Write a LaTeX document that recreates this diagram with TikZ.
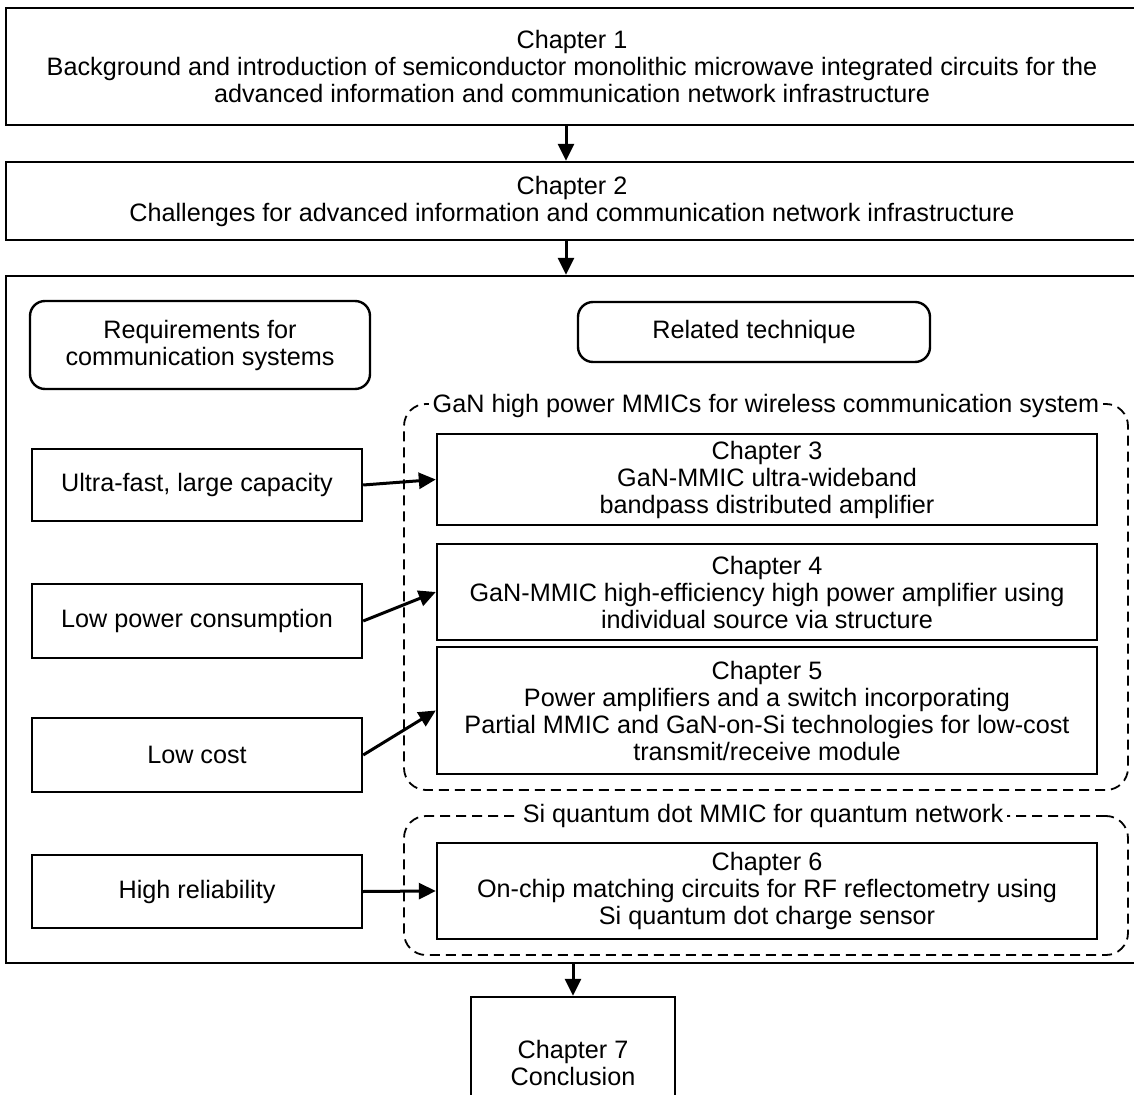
\documentclass[tikz,border=0pt]{standalone}
\usepackage{fontspec}
\setmainfont{Liberation Sans}
\usetikzlibrary{arrows.meta,positioning}
\begin{document}
\begin{tikzpicture}[x=0.5pt, y=-0.5pt,
    every node/.style={font=\fontsize{12.6}{13.5}\selectfont, align=center, inner sep=0pt},
    box/.style={draw, line width=1.2pt},
    rbox/.style={draw, line width=1.2pt, rounded corners=7.5pt},
    group/.style={draw, dash pattern=on 5pt off 3pt, line width=0.9pt, rounded corners=11pt},
    grouplabel/.style={fill=white, inner sep=2pt},
    arr/.style={-{Triangle[length=8.5pt,width=8pt]}, line width=1.5pt}]
    \clip (0,0) rectangle (1134,1095);
    \node (ch1) [box, minimum width=566pt, minimum height=58.5pt] at (572,66.5) {Chapter 1\\Background and introduction of semiconductor monolithic microwave integrated circuits for the\\advanced information and communication network infrastructure};
    \node (ch2) [box, minimum width=566pt, minimum height=39pt] at (572,201) {Chapter 2\\Challenges for advanced information and communication network infrastructure};
    \node (main) [box, minimum width=566pt, minimum height=343.5pt] at (572,619.5) {};
    \node (req) [rbox, minimum width=170pt, minimum height=44pt] at (200,345) {Requirements for\\communication systems};
    \node (rel) [rbox, minimum width=176pt, minimum height=30pt] at (754,332) {Related technique};
    % dashed groups
    \node (gan) [group, minimum width=362pt, minimum height=193pt] at (766,597) {};
    \node (si) [group, minimum width=362pt, minimum height=69.5pt] at (766,885.5) {};
    \node (ganlabel) [grouplabel] at (766,406) {GaN high power MMICs for wireless communication system};
    \node (silabel) [grouplabel] at (763,816) {Si quantum dot MMIC for quantum network};
    % chapters
    \node (ch3) [box, minimum width=330pt, minimum height=45.5pt] at (767,479.5) {Chapter 3\\GaN-MMIC ultra-wideband\\bandpass distributed amplifier};
    \node (ch4) [box, minimum width=330pt, minimum height=48pt] at (767,592) {Chapter 4\\GaN-MMIC high-efficiency high power amplifier using\\individual source via structure};
    \node (ch5) [box, minimum width=330pt, minimum height=63.5pt] at (767,710.5) {Chapter 5\\Power amplifiers and a switch incorporating\\Partial MMIC and GaN-on-Si technologies for low-cost\\transmit/receive module};
    \node (ch6) [box, minimum width=330pt, minimum height=48pt] at (767,891) {Chapter 6\\On-chip matching circuits for RF reflectometry using\\Si quantum dot charge sensor};
    % requirements
    \node (uf) [box, minimum width=165pt, minimum height=36pt] at (197,485) {Ultra-fast, large capacity};
    \node (lp) [box, minimum width=165pt, minimum height=37pt] at (197,621) {Low power consumption};
    \node (lc) [box, minimum width=165pt, minimum height=37pt] at (197,755) {Low cost};
    \node (hr) [box, minimum width=165pt, minimum height=36.5pt] at (197,891.5) {High reliability};
    \node (ch7) [box, minimum width=102pt, minimum height=66pt] at (573,1063) {Chapter 7\\Conclusion};
    \draw[arr] ([xshift=-3pt]ch1.south) -- ([xshift=-3pt]ch2.north);
    \draw[arr] ([xshift=-3pt]ch2.south) -- ([xshift=-3pt]main.north);
    \draw[arr] (main.south -| ch7.north) -- (ch7.north);
    \draw[arr] (uf.east) -- (ch3.west);
    \draw[arr] (lp.east) -- (ch4.west);
    \draw[arr] (lc.east) -- (ch5.west);
    \draw[arr] (hr.east) -- (ch6.west);
\end{tikzpicture}
\end{document}
